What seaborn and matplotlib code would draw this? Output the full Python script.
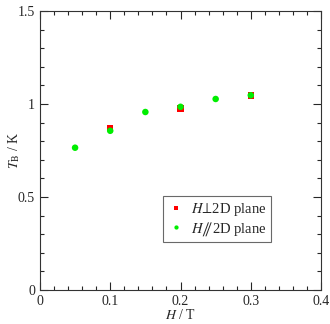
import matplotlib
matplotlib.use("Agg")
import matplotlib.pyplot as plt
import seaborn as sns
import pandas as pd
from matplotlib.ticker import MultipleLocator

sns.set_style("ticks")
plt.rcParams['font.family'] = ['Liberation Serif', 'DejaVu Serif', 'DejaVu Sans']
plt.rcParams['mathtext.fontset'] = 'stix'

h_perp = [0.1, 0.2, 0.3]
tb_perp = [0.870, 0.975, 1.047]
h_par = [0.05, 0.1, 0.15, 0.2, 0.25, 0.3]
tb_par = [0.765, 0.856, 0.957, 0.985, 1.027, 1.047]
labels = ["$H\u22a5$2D plane", "$H\u2afd$2D plane"]

df = pd.concat([
    pd.DataFrame({"H": h_perp, "TB": tb_perp, "s": labels[0]}),
    pd.DataFrame({"H": h_par, "TB": tb_par, "s": labels[1]}),
])

fig = plt.figure(figsize=(3.3, 3.24), dpi=100)
ax = fig.add_axes([0.121, 0.105, 0.852, 0.861])
sns.scatterplot(data=df, x="H", y="TB", hue="s", style="s",
                palette={labels[0]: "#ff0000", labels[1]: "#00ee00"},
                markers={labels[0]: "s", labels[1]: "o"},
                s=22, linewidth=0, ax=ax)

ax.set_xlim(0, 0.4)
ax.set_ylim(0, 1.5)
ax.xaxis.set_major_locator(MultipleLocator(0.1))
ax.xaxis.set_minor_locator(MultipleLocator(0.02))
ax.yaxis.set_major_locator(MultipleLocator(0.5))
ax.yaxis.set_minor_locator(MultipleLocator(0.1))
ax.set_xticks([0, 0.1, 0.2, 0.3, 0.4])
ax.set_xticklabels(["0", "0.1", "0.2", "0.3", "0.4"])
ax.set_yticks([0, 0.5, 1, 1.5])
ax.set_yticklabels(["0", "0.5", "1", "1.5"])
ax.tick_params(which="both", direction="in", top=True, right=True, labelsize=10, width=0.8)
ax.tick_params(which="major", length=6)
ax.tick_params(which="minor", length=3)
for sp in ax.spines.values():
    sp.set_linewidth(0.8)
    sp.set_color("#333333")

ax.set_xlabel("$H$ / T", fontsize=10, labelpad=0)
ax.set_ylabel("$T_\\mathrm{B}$ / K", fontsize=10)
ax.yaxis.set_label_coords(-0.062, 0.5)

leg = ax.legend(loc="lower left", bbox_to_anchor=(0.438, 0.172), fontsize=10.5,
                frameon=True, fancybox=False, edgecolor="#444444",
                markerscale=0.65, handletextpad=0.4, borderpad=0.3,
                handlelength=1.2, labelspacing=0.15, borderaxespad=0)
leg.get_frame().set_linewidth(0.8)

fig.savefig("out.png", dpi=100)
